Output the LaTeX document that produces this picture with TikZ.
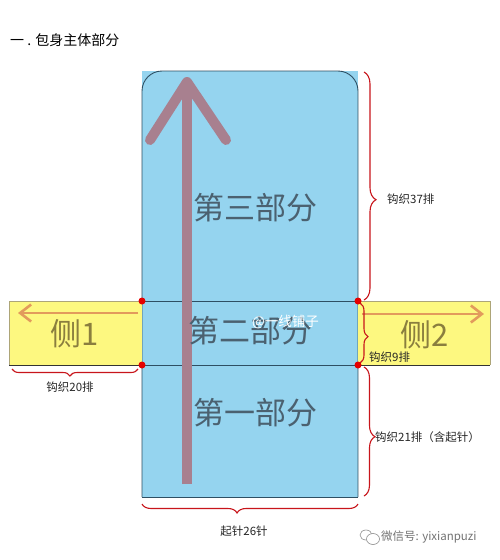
\documentclass[tikz,border=0pt]{standalone}
\usepackage{fontspec}
\setmainfont{Noto Sans CJK SC}
\usetikzlibrary{decorations.pathreplacing,arrows.meta}
\definecolor{mainblue}{HTML}{95D4EF}
\definecolor{outline}{HTML}{2E4F63}
\definecolor{sideyellow}{HTML}{FDF880}
\definecolor{mauve}{HTML}{A8808F}
\definecolor{orangearr}{HTML}{E29B5C}
\definecolor{partgray}{HTML}{4B6170}
\definecolor{olive}{HTML}{8A7E3E}
\definecolor{bracered}{HTML}{C8151B}
\tikzset{
  partlabel/.style={font=\fontsize{31}{31}\selectfont, text=partgray, inner sep=0},
  sidelabel/.style={font=\fontsize{31}{31}\selectfont, text=olive, inner sep=0},
  smalllabel/.style={font=\fontsize{11.5}{12}\selectfont, text=black!85, inner sep=0},
  redbrace/.style={draw=bracered, line width=1.1pt, decorate},
  sidearrow/.style={draw=orangearr, line width=2.6pt, -{Straight Barb[length=11pt,width=17pt,line width=2.6pt]}},
  reddot/.style={circle, fill=red!90!black, minimum size=7pt, inner sep=0},
}
\begin{document}
\begin{tikzpicture}[x=1pt,y=-1pt]
\useasboundingbox (0,0) rectangle (500,560);
\fill[white] (0,0) rectangle (500,560);
% title
\node[anchor=west, font=\fontsize{14}{14}\selectfont, inner sep=0] (title) at (10,40) {一 . 包身主体部分};
% main body
\fill[mainblue] (142,71) rectangle (358,497);
\draw[outline, line width=0.9pt, rounded corners=20pt] (142,497) -- (142,71) -- (358,71) -- (358,497);
\draw[outline, line width=0.9pt] (142,497) -- (358,497);
\draw[outline, line width=0.8pt] (142,301) -- (358,301);
\draw[outline, line width=0.8pt] (142,365) -- (358,365);
% side boxes
\fill[sideyellow] (9,301) rectangle (142,365);
\fill[sideyellow] (358,301) rectangle (490,365);
\draw[olive!70, line width=0.8pt] (142,301) -- (9,301) -- (9,365);
\draw[black!80, line width=0.9pt] (9,365) -- (142,365);
\draw[olive!70, line width=0.8pt] (358,301) -- (490,301) -- (490,365);
\draw[black!80, line width=0.9pt] (358,365) -- (490,365);
% big arrow
\draw[mauve, line width=10pt] (187,484) -- (187,84);
\draw[mauve, line width=10pt, line cap=round, line join=round] (150,140) -- (187,82) -- (226,140);
% side arrows
\coordinate (l1) at (138,313);
\coordinate (l2) at (18,313);
\coordinate (r1) at (362,314);
\coordinate (r2) at (484,314);
\draw[sidearrow] (l1) -- (l2);
\draw[sidearrow] (r1) -- (r2);
% part labels
\node[partlabel] (p3) at (255,208) {第三部分};
\node[partlabel] (p2) at (250,331) {第二部分};
\node[partlabel] (p1) at (255,413) {第一部分};
\node[sidelabel] (s1) at (75,334) {侧1};
\node[sidelabel] (s2) at (425,335) {侧2};
% watermark
\node[anchor=west, font=\fontsize{13.5}{14}\selectfont, text=white, inner sep=0] (wm) at (252,322) {@一线铺子};
% red dots
\node[reddot] (d1) at (142,301) {};
\node[reddot] (d2) at (358,301) {};
\node[reddot] (d3) at (142,365) {};
\node[reddot] (d4) at (358,365) {};
% braces
\draw[redbrace, decoration={brace, amplitude=12pt, aspect=0.56}] (364,72) -- (364,300);
\draw[redbrace, decoration={brace, amplitude=8pt, aspect=0.56}] (360,303) -- (360,363);
\draw[redbrace, decoration={brace, amplitude=11pt, aspect=0.54}] (364,367) -- (364,496);
\draw[redbrace, decoration={brace, amplitude=9pt, aspect=0.56}] (358,504) -- (142,504);
\draw[redbrace, decoration={brace, amplitude=7pt, aspect=0.54}] (138,369) -- (12,369);
% brace labels
\node[smalllabel, anchor=west] (b37) at (387,199) {钩织37排};
\node[smalllabel, anchor=west] (b9) at (369,357) {钩织9排};
\node[smalllabel, anchor=west] (b21) at (375,437) {钩织21排（含起针）};
\node[smalllabel] (b26) at (244,531) {起针26针};
\node[smalllabel] (b20) at (70,387) {钩织20排};
% wechat mark
\draw[black!45, fill=white, line width=0.6pt] (366,535) ellipse (6pt and 5pt);
\draw[black!45, fill=white, line width=0.6pt] (373,539) ellipse (6.5pt and 5.5pt);
\node[anchor=west, font=\fontsize{11.5}{12}\selectfont, text=black!55, inner sep=0] (wx) at (381,537) {微信号: yixianpuzi};
\end{tikzpicture}
\end{document}
